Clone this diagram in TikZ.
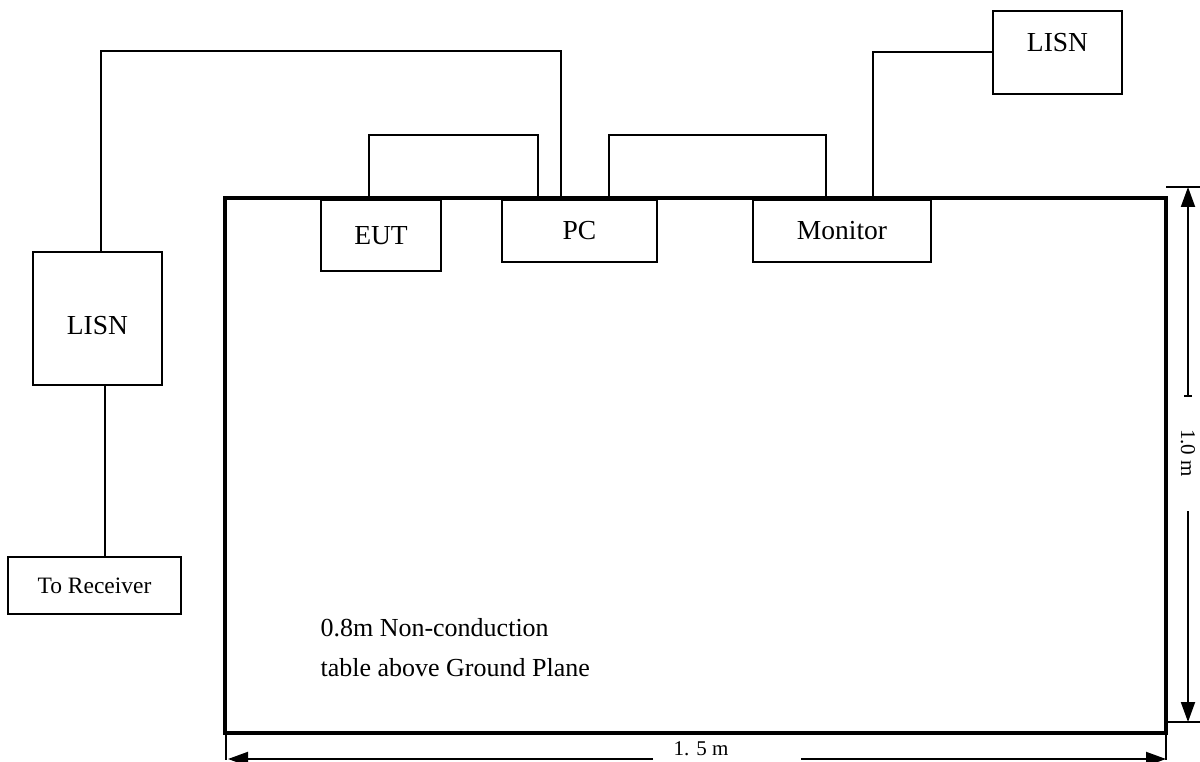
\documentclass[tikz,border=0pt]{standalone}
\usepackage{fontspec}
\setmainfont{Liberation Serif}
\usetikzlibrary{arrows.meta,positioning}

\begin{document}
\begin{tikzpicture}[x=1pt,y=-1pt,
  lbl/.style={font=\fontsize{27.5}{33}\selectfont},
  box/.style={draw,line width=2pt,inner sep=0pt,lbl},
  cable/.style={line width=2pt},
  dimline/.style={line width=2pt,-{Triangle[width=14pt,length=20pt]}},
  dimfont/.style={font=\fontsize{21}{25}\selectfont}]
  \useasboundingbox (0,0) rectangle (1200,762);

  % table and its text
  \node[draw,line width=4pt,inner sep=0pt,minimum width=941pt,minimum height=535pt] (table) at (695.5,465.5) {};
  \node[anchor=west,align=left,font=\fontsize{26}{40}\selectfont] (tabletext) at (317,648) {0.8m Non-conduction\\table above Ground Plane};

  % equipment
  \node[box,minimum width=120pt,minimum height=71pt] (eut) at (381,235.5) {EUT};
  \node[box,minimum width=155pt,minimum height=62pt] (pc) at (579.5,231) {PC};
  \node[box,minimum width=178pt,minimum height=62pt] (monitor) at (842,231) {Monitor};
  \node[box,minimum width=129pt,minimum height=133pt,label={[lbl,yshift=-7pt]center:LISN}] (lisnL) at (97.5,318.5) {};
  \node[box,minimum width=129pt,minimum height=83pt,label={[lbl,yshift=9.5pt]center:LISN}] (lisnR) at (1057.5,52.5) {};
  \node[box,minimum width=173pt,minimum height=57pt,font=\fontsize{23.5}{28}\selectfont] (recv) at (94.5,585.5) {To Receiver};

  % cables
  \draw[cable] ([xshift=-12pt]eut.north) -- ++(0,-64) -| ([xshift=-41.5pt]pc.north);
  \draw[cable] ([xshift=29.5pt]pc.north) -- ++(0,-64) -| ([xshift=-16pt]monitor.north);
  \draw[cable] ([xshift=-18.5pt]pc.north) -- ++(0,-148) -| ([xshift=3.5pt]lisnL.north);
  \draw[cable] ([xshift=31pt]monitor.north) |- (lisnR.west);
  \draw[cable] ([xshift=7.5pt]lisnL.south) -- ([xshift=7.5pt]lisnL.south |- recv.north);

  % height 1.0 m
  \coordinate (htop) at (1188,187);
  \coordinate (hbot) at (1188,722);
  \draw[line width=1.5pt] (1166,187) -- (1200,187);
  \draw[line width=1.5pt] (1168,722) -- (1200,722);
  \draw[line width=2pt,{Bar[width=8pt]}-{Triangle[width=14pt,length=20pt]}] (1188,397) -- (htop);
  \node[dimfont,rotate=-90] (hlabel) at (1188,453) {1.0 m};
  \draw[dimline] (1188,511) -- (hbot);

  % width 1.5 m
  \draw[line width=1.5pt] (226,733) -- (226,760);
  \draw[line width=1.5pt] (1166,733) -- (1166,760);
  \node[dimfont] (wlabel) at (701,749) {1. 5 m};
  \draw[dimline] (653,759) -- (228,759);
  \draw[dimline] (801,759) -- (1166,759);
\end{tikzpicture}
\end{document}
